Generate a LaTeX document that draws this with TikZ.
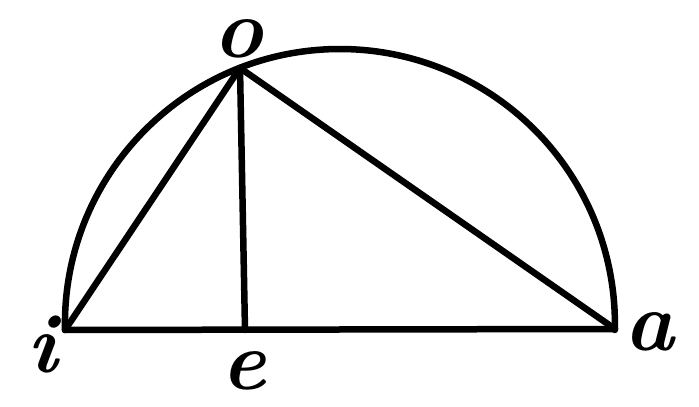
\documentclass[tikz,border=0pt]{standalone}
\begin{document}
\begin{tikzpicture}[x=1pt,y=1pt,
  stroke/.style={line width=6.5pt,line cap=round,line join=round},
  lbl/.style={inner sep=0pt,font=\fontsize{84}{84}\selectfont\bfseries\itshape}]
\useasboundingbox (0,0) rectangle (699,407);
\coordinate (I) at (65,77);
\coordinate (A) at (615,78);
\coordinate (O) at (240,339);
\coordinate (E) at (245,77);
\draw[stroke] (I) arc[start angle=181.25,end angle=-1.25,radius=275];
\draw[stroke] (I) -- (A);
\draw[stroke] (I) -- (O) -- (A);
\draw[stroke] (O) -- (E);
\node[lbl] (li) at (42,62) {i};
\node[lbl] (lo) at (238,368) {o};
\node[lbl] (la) at (649,75) {a};
\node[lbl] (le) at (244,36) {e};
\end{tikzpicture}
\end{document}
